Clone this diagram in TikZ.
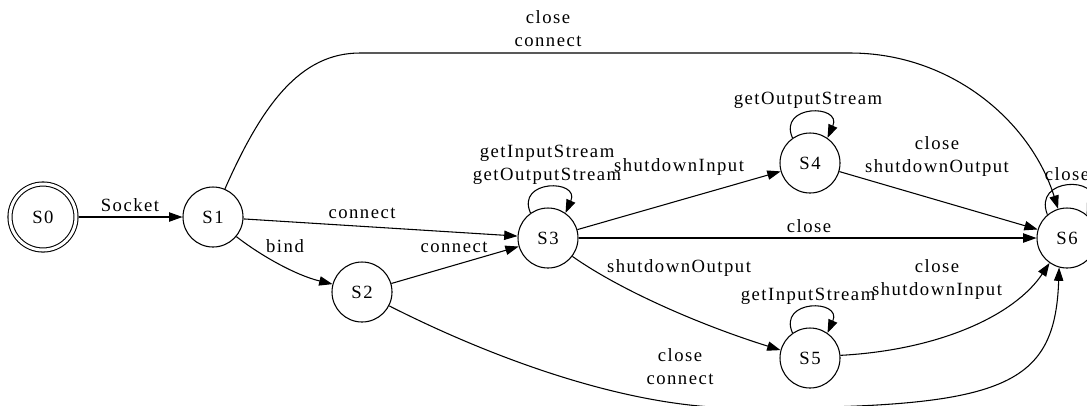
\documentclass[tikz,border=0pt]{standalone}
\usepackage{fontspec}
\setmainfont{Liberation Serif}[LetterSpace=8]
\usetikzlibrary{arrows.meta}

\begin{document}
\begin{tikzpicture}[x=0.75pt,y=-0.75pt,line width=0.8pt,
        >={Triangle[length=10pt,width=7pt]}]
        \tikzset{stnode/.style={circle,
                    draw=black, fill=white,
                    minimum size=45pt, inner sep=0pt,
                    font=\fontsize{14}{17.25}\selectfont},
                 startnode/.style={stnode, double, double distance=2.25pt,
                    minimum size=49.5pt, outer sep=1.9pt},
                 elbl/.style={inner sep=0pt, align=center,
                    font=\fontsize{14}{17.25}\selectfont}}
        \useasboundingbox (0,0) rectangle (1087,405);
        \fill[white] (0,0) rectangle (1087,405);
        \clip (0,0) rectangle (1087,405);

        % states
        \node[startnode] (s0) at (43,217) {S0};
        \node[stnode] (s1) at (213,217) {S1};
        \node[stnode] (s2) at (362,292) {S2};
        \node[stnode] (s3) at (548,238) {S3};
        \node[stnode] (s4) at (810,163) {S4};
        \node[stnode] (s5) at (810,358) {S5};
        \node[stnode] (s6) at (1067,238) {S6};

        % transitions
        \draw[->] (s0) -- (s1);
        \draw[->] (s1) -- (s3);
        \draw[->] (s1.-40) .. controls (260,255) and (295,275) .. (s2.165);
        \draw[->] (s2) -- (s3);
        \draw[->] (s1.67) .. controls (262,105) and (300,53) .. (360,53)
                -- (850,53) .. controls (950,53) and (1030,120) .. (s6.107);
        \draw[->] (s3) -- (s4);
        \draw[->] (s3) -- (s6);
        \draw[->] (s3.-37) .. controls (620,290) and (700,325) .. (s5.165);
        \draw[->] (s4) -- (s6);
        \draw[->] (s5.5) .. controls (940,350) and (1015,315) .. (s6.235);
        \draw[->] (s2.-27) .. controls (480,352) and (620,408) .. (740,408)
                .. controls (1000,408) and (1055,390) .. (s6.255);
        \draw[->] (s3.125) .. controls +(-15,-34) and +(15,-34) .. (s3.55);
        \draw[->] (s4.125) .. controls +(-15,-34) and +(15,-34) .. (s4.55);
        \draw[->] (s5.125) .. controls +(-15,-34) and +(15,-34) .. (s5.55);
        \draw[->] (s6.130) .. controls +(-15,-38) and +(15,-38) .. (s6.50);

        % labels
        \node[elbl, anchor=base] (l01) at (130,211.7) {Socket};
        \node[elbl, anchor=base] (l13) at (362,218) {connect};
        \node[elbl, anchor=base] (l12) at (285,252) {bind};
        \node[elbl, anchor=base] (l23) at (454,252) {connect};
        \node[elbl] (l33) at (547,165.2) {getInputStream\\getOutputStream};
        \node[elbl, anchor=base] (l34) at (679,171) {shutdownInput};
        \node[elbl, anchor=base] (l44) at (808,104) {getOutputStream};
        \node[elbl] (l46) at (937,156.2) {close\\shutdownOutput};
        \node[elbl, anchor=base] (l36) at (809,232) {close};
        \node[elbl, anchor=base] (l35) at (679,272) {shutdownOutput};
        \node[elbl, anchor=base] (l55) at (808,300) {getInputStream};
        \node[elbl] (l56) at (937,279.2) {close\\shutdownInput};
        \node[elbl] (l26) at (680,366.2) {close\\connect};
        \node[elbl] (l16) at (548,28.7) {close\\connect};
        \node[elbl, anchor=base] (l66) at (1067,180) {close};
\end{tikzpicture}
\end{document}
